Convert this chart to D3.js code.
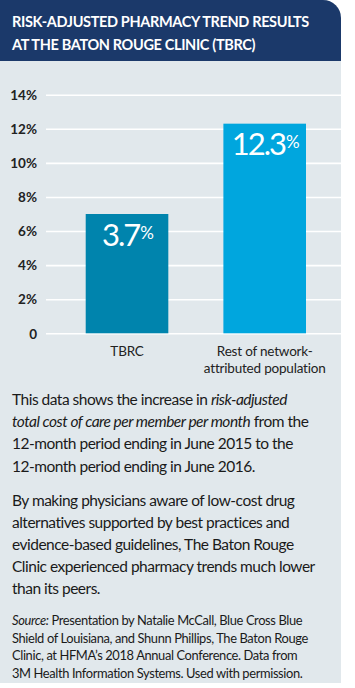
<!DOCTYPE html>
<html><head><meta charset="utf-8">
<script src="https://cdn.jsdelivr.net/npm/d3@7"></script>
<style>body{margin:0;background:#fff;} svg{display:block}</style>
</head><body>
<script>
// ---- data ----
const titleLines = ["RISK-ADJUSTED PHARMACY TREND RESULTS", "AT THE BATON ROUGE CLINIC (TBRC)"];
const categories = ["TBRC", "Rest of network-attributed population"];
const categoryLines = [["TBRC"], ["Rest of network-", "attributed population"]];
const barHeights = [7.0, 12.3];          // heights as drawn in the picture
const valueLabels = ["3.7", "12.3"];     // printed value labels
const yTicks = [0, 2, 4, 6, 8, 10, 12, 14];
const tickLabels = ["0", "2%", "4%", "6%", "8%", "10%", "12%", "14%"];
const para1 = [
  [["This data shows the increase in ", false], ["risk-adjusted", true]],
  [["total cost of care per member per month", true], [" from the", false]],
  [["12-month period ending in June 2015 to the", false]],
  [["12-month period ending in June 2016.", false]]
];
const para2 = [
  [["By making physicians aware of low-cost drug", false]],
  [["alternatives supported by best practices and", false]],
  [["evidence-based guidelines, The Baton Rouge", false]],
  [["Clinic experienced pharmacy trends much lower", false]],
  [["than its peers.", false]]
];
const sourceLines = [
  [["Source:", true], [" Presentation by Natalie McCall, Blue Cross Blue", false]],
  [["Shield of Louisiana, and Shunn Phillips, The Baton Rouge", false]],
  [["Clinic, at HFMA\u2019s 2018 Annual Conference. Data from", false]],
  [["3M Health Information Systems. Used with permission.", false]]
];

// ---- styles ----
const W = 355, H = 688;
const panelW = 341, panelH = 683, headerH = 61, radius = 18;
const navy = "#1b396a", panelBg = "#e1e8ec";
const barColors = ["#0084ad", "#00a6de"];
const font = "Lato, 'Open Sans', sans-serif";

const svg = d3.select("body").append("svg").attr("width", W).attr("height", H);

// panel background with rounded top-right corner
svg.append("path")
  .attr("d", `M0,0 H${panelW - radius} A${radius},${radius} 0 0 1 ${panelW},${radius} V${panelH} H0 Z`)
  .attr("fill", panelBg);
svg.append("path")
  .attr("d", `M0,0 H${panelW - radius} A${radius},${radius} 0 0 1 ${panelW},${radius} V${headerH} H0 Z`)
  .attr("fill", navy);

svg.append("g").selectAll("text").data(titleLines).join("text")
  .attr("x", 12).attr("y", (d, i) => 27 + i * 23)
  .attr("fill", "#fff").attr("font-family", font).attr("font-weight", 700)
  .attr("font-size", 14.5).attr("letter-spacing", -0.35)
  .text(d => d);

// scales
const y = d3.scaleLinear().domain([0, 14]).range([333.3, 94.7]);
const x = d3.scaleBand().domain(categories).range([44.4, 347.3]).paddingInner(0.4).paddingOuter(0.3);

// gridlines + tick labels via axis
const yAxis = d3.axisLeft(y).tickValues(yTicks).tickSize(-(panelW - 46)).tickFormat((d, i) => tickLabels[i]);
const gAxis = svg.append("g").attr("transform", "translate(46,0)").call(yAxis);
gAxis.select(".domain").remove();
gAxis.selectAll(".tick line").attr("stroke", "#fff").attr("stroke-width", 1.6);
gAxis.selectAll(".tick text").attr("x", -9).attr("dy", "0.35em")
  .attr("fill", "#222").attr("font-family", font).attr("font-weight", 700).attr("font-size", 13.5);

// bars
svg.append("g").selectAll("rect").data(categories).join("rect")
  .attr("x", d => x(d)).attr("width", x.bandwidth())
  .attr("y", (d, i) => y(barHeights[i])).attr("height", (d, i) => y(0) - y(barHeights[i]))
  .attr("fill", (d, i) => barColors[i]);

// value labels
const vl = svg.append("g").selectAll("text").data(categories).join("text")
  .attr("x", d => x(d) + x.bandwidth() / 2 + 1)
  .attr("y", (d, i) => y(barHeights[i]) + 31.5)
  .attr("text-anchor", "middle").attr("fill", "#fff")
  .attr("font-family", font).attr("font-weight", 400);
vl.append("tspan").attr("font-size", 31).attr("letter-spacing", -2).text((d, i) => valueLabels[i]);
vl.append("tspan").attr("font-size", 17).attr("dx", 1).attr("dy", -7).text("%");

// category labels
svg.append("g").selectAll("text").data(categories).join("text")
  .attr("x", d => x(d) + x.bandwidth() / 2).attr("y", 356)
  .attr("text-anchor", "middle").attr("fill", "#222")
  .attr("font-family", font).attr("font-size", 13.5).attr("letter-spacing", -0.2)
  .selectAll("tspan").data((d, i) => categoryLines[i]).join("tspan")
  .attr("x", function () { return d3.select(this.parentNode).attr("x"); })
  .attr("dy", (d, j) => j === 0 ? 0 : 16.7)
  .text(d => d);

// body paragraphs
function block(lines, y0, lh, size, ls) {
  const g = svg.append("g");
  lines.forEach((segs, i) => {
    const t = g.append("text").attr("x", 12).attr("y", y0 + i * lh)
      .attr("fill", "#1a1a1a").attr("font-family", font).attr("font-size", size)
      .attr("letter-spacing", ls);
    segs.forEach(s => t.append("tspan").attr("font-style", s[1] ? "italic" : "normal").text(s[0]));
  });
}
block(para1, 404.5, 22.4, 15.5, -0.5);
block(para2, 506, 22.1, 15.5, -0.5);
block(sourceLines, 625, 17.6, 12.9, -0.38);
</script>
</body></html>
